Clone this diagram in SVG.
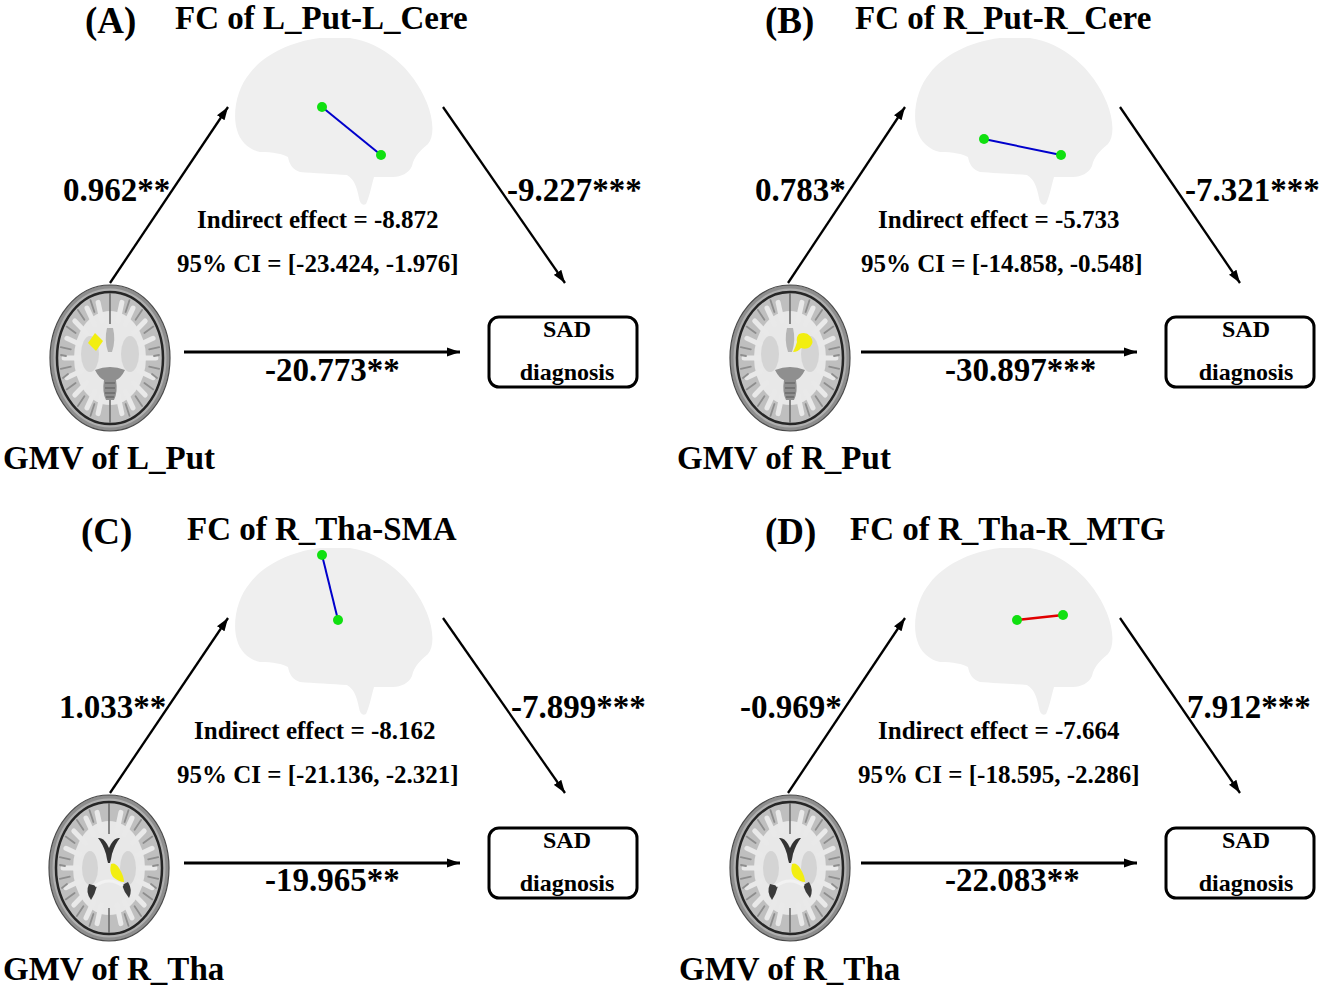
<svg xmlns="http://www.w3.org/2000/svg" xmlns:xlink="http://www.w3.org/1999/xlink" width="1323" height="992" viewBox="0 0 1323 992">
<style>
.t{font-family:"Liberation Serif","Times New Roman",serif;font-weight:bold;fill:#000}
.lab{font-size:37px}
.ttl{font-size:33px}
.coef{font-size:33px}
.ie{font-size:25px}
.bx{font-size:24px;text-anchor:middle}
.gmv{font-size:33px}
.sil{fill:#efefef}
.dot{fill:#10e010}
.fcb{stroke:#0000cc;stroke-width:2}
.fcr{stroke:#e00000;stroke-width:2.5}
.arr{stroke:#000;stroke-width:2.3;fill:none;marker-end:url(#ah)}
.harr{stroke:#000;stroke-width:3;fill:none;marker-end:url(#ah)}
.sad{fill:#fff;stroke:#000;stroke-width:3}
.sul{stroke:#8e8e8e;stroke-width:1.8;stroke-linecap:round;fill:none}
.gyr{stroke:#e9e9e9;stroke-width:5;stroke-linecap:round;fill:none}
.yel{fill:#f2ee10}
</style>
<defs>
<marker id="ah" markerUnits="userSpaceOnUse" markerWidth="14" markerHeight="10" refX="13" refY="5" orient="auto">
<path d="M0,0.5 L13,5 L0,9.5 Z" fill="#000"/>
</marker>
<path id="brainSil" class="sil" d="M4,92 C-1,75 4,50 17,35 C30,18 55,4 87,0 L117,0 C150,5 180,30 194,65 C200,80 202,98 195,106 C188,112 181,118 179,128 C176,135 168,139 160,139 L141,139 C138,150 136,160 133,166 C130,168 127,166 126,160 C124,150 122,142 114,137 C100,136 80,135 67,134 C60,132 56,126 55,119 C50,116 40,114 27,114 C17,112 7,104 4,92 Z"/>
<g id="halfPat">
<path class="gyr" d="M30.6,0 L45.9,0 M28.8,13.1 L43.1,19.7 M23.4,24.7 L35.2,37 M15.3,33.3 L23,49.9 M7.9,37.1 L11.9,55.6 M28.8,-13.1 L43.1,-19.7 M23.4,-24.7 L35.2,-37 M15.3,-33.3 L23,-49.9 M7.9,-37.1 L11.9,-55.6"/>
<path class="sul" d="M39.2,8.7 L49.2,10.9 M34.4,25 L43.3,31.4 M25.6,38.2 L32.1,48 M15.6,46 L19.5,57.8 M39.2,-8.7 L49.2,-10.9 M34.4,-25 L43.3,-31.4 M25.6,-38.2 L32.1,-48 M15.6,-46 L19.5,-57.8 M44,-2 L49,-3 M47,20 L42,16"/>
</g>
<g id="axial">
<ellipse cx="0" cy="0" rx="60" ry="73" fill="#8e8e8e" stroke="#4a4a4a" stroke-width="1.2"/>
<ellipse cx="0" cy="0" rx="56.5" ry="69.5" fill="#b0b0b0"/>
<ellipse cx="0" cy="0" rx="53" ry="66" fill="#bfbfbf" stroke="#262626" stroke-width="2.5"/>
<ellipse cx="0" cy="0" rx="36" ry="47" fill="#e8e8e8"/>
<use xlink:href="#halfPat"/>
<use xlink:href="#halfPat" transform="scale(-1,1)"/>
<path d="M0,-65 L0,-34 M0,40 L0,65" stroke="#6e6e6e" stroke-width="1.6"/>
</g>
<g id="axialPut">
<use xlink:href="#axial"/>
<ellipse cx="-20" cy="-4" rx="9" ry="18" fill="#d4d4d4"/>
<ellipse cx="20" cy="-4" rx="9" ry="18" fill="#d4d4d4"/>
<path d="M-3,-30 Q-6,-18 -2,-6 L2,-6 Q6,-18 3,-30 Z" fill="#b5b5b5"/>
<path d="M-15,12 Q0,6 15,12 Q11,20 6,22 Q8,34 4,42 L-4,42 Q-8,34 -6,22 Q-11,20 -15,12 Z" fill="#8f8f8f"/>
<path d="M-5,25 L5,25 M-5,30 L5,30 M-5,35 L5,35 M-4,39 L4,39" stroke="#5a5a5a" stroke-width="1.1"/>
</g>
<g id="axialTha">
<use xlink:href="#axial"/>
<ellipse cx="-19" cy="0" rx="8" ry="17" fill="#d4d4d4"/>
<ellipse cx="19" cy="0" rx="8" ry="17" fill="#d4d4d4"/>
<path d="M-11,-30 Q-6,-24 -3,-14 Q-2,-8 -1,-5 L1,-5 Q2,-8 3,-14 Q6,-24 11,-30 Q6,-31 2,-24 L0,-20 L-2,-24 Q-6,-31 -11,-30 Z" fill="#333"/>
<path d="M-20,16 Q-24,24 -18,32 Q-14,26 -12,18 Z" fill="#3a3a3a"/>
<path d="M19,14 Q24,22 20,30 Q15,24 13,17 Z" fill="#3a3a3a"/>
<path d="M-14,18 Q0,8 14,18" stroke="#f2f2f2" stroke-width="3" fill="none"/>
</g>
</defs>

<rect width="1323" height="992" fill="#fff"/>

<!-- ===== Panel A ===== -->
<g id="panelA">
<text class="t lab" x="85" y="33">(A)</text>
<g id="A_fc">
<use xlink:href="#brainSil" transform="translate(233,38)"/>
<line class="fcb" x1="322" y1="107" x2="381" y2="155"/>
<circle class="dot" cx="322" cy="107" r="5"/>
<circle class="dot" cx="381" cy="155" r="5"/>
<text class="t ttl" x="175" y="29">FC of L_Put-L_Cere</text>
</g>
<g id="A_gmv">
<use xlink:href="#axialPut" transform="translate(110,358)"/>
<path class="yel" d="M95,333 L103,341 L96,351 L88,343 Z"/>
<text class="t gmv" x="3" y="469">GMV of L_Put</text>
</g>
<g id="A_sad">
<rect class="sad" x="489" y="317" width="148" height="70" rx="10"/>
<text class="t bx" x="567" y="337">SAD</text>
<text class="t bx" x="567" y="380">diagnosis</text>
</g>
<g id="A_effect">
<text class="t ie" x="197" y="228">Indirect effect = -8.872</text>
<text class="t ie" x="177" y="272">95% CI = [-23.424, -1.976]</text>
</g>
</g>

<!-- ===== Panel B ===== -->
<g id="panelB">
<text class="t lab" x="765" y="33">(B)</text>
<g id="B_fc">
<use xlink:href="#brainSil" transform="translate(913,38)"/>
<line class="fcb" x1="984" y1="139" x2="1061" y2="155"/>
<circle class="dot" cx="984" cy="139" r="5"/>
<circle class="dot" cx="1061" cy="155" r="5"/>
<text class="t ttl" x="855" y="29">FC of R_Put-R_Cere</text>
</g>
<g id="B_gmv">
<use xlink:href="#axialPut" transform="translate(790,358)"/>
<path class="yel" d="M799,334 Q806,331 810,336 Q815,342 810,347 Q806,350 801,348 Q798,352 793,352 Q796,346 797,342 Q796,337 799,334 Z"/>
<text class="t gmv" x="677" y="469">GMV of R_Put</text>
</g>
<g id="B_sad">
<rect class="sad" x="1166" y="317" width="148" height="70" rx="10"/>
<text class="t bx" x="1246" y="337">SAD</text>
<text class="t bx" x="1246" y="380">diagnosis</text>
</g>
<g id="B_effect">
<text class="t ie" x="878" y="228">Indirect effect = -5.733</text>
<text class="t ie" x="861" y="272">95% CI = [-14.858, -0.548]</text>
</g>
</g>

<!-- ===== Panel C ===== -->
<g id="panelC">
<text class="t lab" x="81" y="544">(C)</text>
<g id="C_fc">
<use xlink:href="#brainSil" transform="translate(233,548)"/>
<line class="fcb" x1="322" y1="555" x2="338" y2="620"/>
<circle class="dot" cx="322" cy="555" r="5"/>
<circle class="dot" cx="338" cy="620" r="5"/>
<text class="t ttl" x="187" y="540">FC of R_Tha-SMA</text>
</g>
<g id="C_gmv">
<use xlink:href="#axialTha" transform="translate(109,868)"/>
<path class="yel" d="M111,864 Q115,862 119,868 Q124,876 124,882 Q119,882 113,877 Q109,872 111,864 Z"/>
<text class="t gmv" x="3" y="980">GMV of R_Tha</text>
</g>
<g id="C_sad">
<rect class="sad" x="489" y="828" width="148" height="70" rx="10"/>
<text class="t bx" x="567" y="848">SAD</text>
<text class="t bx" x="567" y="891">diagnosis</text>
</g>
<g id="C_effect">
<text class="t ie" x="194" y="739">Indirect effect = -8.162</text>
<text class="t ie" x="177" y="783">95% CI = [-21.136, -2.321]</text>
</g>
</g>

<!-- ===== Panel D ===== -->
<g id="panelD">
<text class="t lab" x="765" y="544">(D)</text>
<g id="D_fc">
<use xlink:href="#brainSil" transform="translate(913,548)"/>
<line class="fcr" x1="1017" y1="620" x2="1063" y2="615"/>
<circle class="dot" cx="1017" cy="620" r="5"/>
<circle class="dot" cx="1063" cy="615" r="5"/>
<text class="t ttl" x="850" y="540">FC of R_Tha-R_MTG</text>
</g>
<g id="D_gmv">
<use xlink:href="#axialTha" transform="translate(790,868)"/>
<path class="yel" d="M792,864 Q796,862 800,868 Q805,876 805,882 Q800,882 794,877 Q790,872 792,864 Z"/>
<text class="t gmv" x="679" y="980">GMV of R_Tha</text>
</g>
<g id="D_sad">
<rect class="sad" x="1166" y="828" width="148" height="70" rx="10"/>
<text class="t bx" x="1246" y="848">SAD</text>
<text class="t bx" x="1246" y="891">diagnosis</text>
</g>
<g id="D_effect">
<text class="t ie" x="878" y="739">Indirect effect = -7.664</text>
<text class="t ie" x="858" y="783">95% CI = [-18.595, -2.286]</text>
</g>
</g>

<!-- ===== Connectors ===== -->
<g id="connectors">
<line class="arr" x1="110" y1="283" x2="228" y2="107"/>
<line class="arr" x1="443" y1="107" x2="565" y2="283"/>
<line class="harr" x1="184" y1="352" x2="460" y2="352"/>
<text class="t coef" x="63" y="201">0.962**</text>
<text class="t coef" x="507" y="201">-9.227***</text>
<text class="t coef" x="265" y="381">-20.773**</text>

<line class="arr" x1="788" y1="283" x2="905" y2="107"/>
<line class="arr" x1="1120" y1="107" x2="1240" y2="283"/>
<line class="harr" x1="861" y1="352" x2="1137" y2="352"/>
<text class="t coef" x="755" y="201">0.783*</text>
<text class="t coef" x="1185" y="201">-7.321***</text>
<text class="t coef" x="945" y="381">-30.897***</text>

<line class="arr" x1="110" y1="793" x2="228" y2="618"/>
<line class="arr" x1="443" y1="618" x2="565" y2="793"/>
<line class="harr" x1="184" y1="863" x2="460" y2="863"/>
<text class="t coef" x="59" y="718">1.033**</text>
<text class="t coef" x="511" y="718">-7.899***</text>
<text class="t coef" x="265" y="891">-19.965**</text>

<line class="arr" x1="788" y1="793" x2="905" y2="618"/>
<line class="arr" x1="1120" y1="618" x2="1240" y2="793"/>
<line class="harr" x1="861" y1="863" x2="1137" y2="863"/>
<text class="t coef" x="740" y="718">-0.969*</text>
<text class="t coef" x="1187" y="718">7.912***</text>
<text class="t coef" x="945" y="891">-22.083**</text>
</g>
</svg>
